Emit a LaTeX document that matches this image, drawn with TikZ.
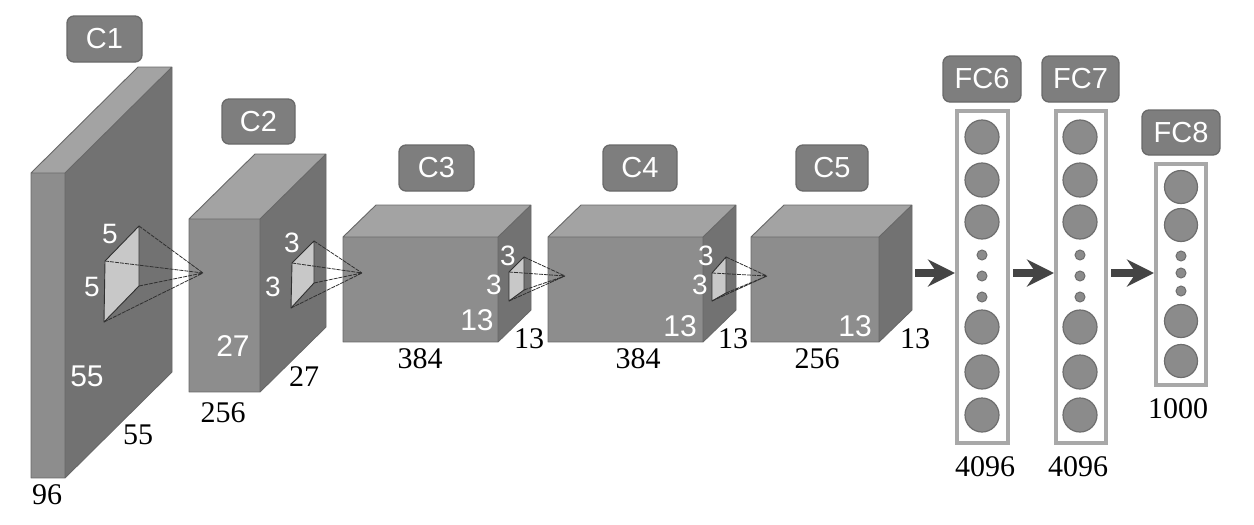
\documentclass[tikz,border=0pt]{standalone}
\usepackage{fontspec}
\setmainfont{Liberation Serif}
\newfontfamily\labfont{Liberation Sans}
\usetikzlibrary{arrows.meta}
\definecolor{frontc}{HTML}{8D8D8D}
\definecolor{sidec}{HTML}{727272}
\definecolor{topc}{HTML}{A3A3A3}
\definecolor{edgec}{HTML}{686868}
\definecolor{kernc}{HTML}{C8C8C8}
\definecolor{tagc}{HTML}{7E7E7E}
\definecolor{tagb}{HTML}{6A6A6A}
\definecolor{colb}{HTML}{A8A8A8}
\definecolor{neuc}{HTML}{8B8B8B}
\definecolor{neub}{HTML}{6E6E6E}
\definecolor{arrc}{HTML}{444444}
\definecolor{rayc}{HTML}{303030}
\newcommand\cuboid[6]{%
  \fill[frontc] (#1,#2) rectangle (#3,#4);
  \fill[topc] (#1,#2) -- ++(#5,-#6) -- ++(#3-#1,0) -- (#3,#2) -- cycle;
  \fill[sidec] (#3,#2) -- ++(#5,-#6) -- ++(0,#4-#2) -- (#3,#4) -- cycle;
  \draw[edgec, line width=0.9pt, line join=round]
    (#1,#2) -- ++(#5,-#6) -- ++(#3-#1,0) -- ++(0,#4-#2) -- (#3,#4) -- (#1,#4) -- cycle
    (#1,#2) -- (#3,#2) -- ++(#5,-#6) (#3,#2) -- (#3,#4);
}
\newcommand\kernel[5]{%
  % #1 A (front top), #2 B (back top), #3 C (back bottom), #4 D (front bottom), #5 apex
  \fill[kernc] #1 -- #2 -- #3 -- #4 -- cycle;
  \draw[rayc, line width=0.9pt, line join=round] #1 -- #2 -- #3 -- #4 -- cycle;
  \draw[rayc, line width=0.8pt, dash pattern=on 4pt off 1pt] #1 -- #5 #2 -- #5 #3 -- #5 #4 -- #5;
}
\begin{document}
\begin{tikzpicture}[x=1pt,y=-1pt,
  tag/.style={draw=tagb, line width=1.3pt, fill=tagc, rounded corners=7pt, text=white,
    font=\labfont\fontsize{29}{32}\selectfont, inner sep=0pt, minimum height=46pt},
  wnum/.style={text=white, font=\labfont\fontsize{30}{32}\selectfont, inner sep=0pt},
  knum/.style={text=white, font=\labfont\fontsize{28}{30}\selectfont, inner sep=0pt},
  bnum/.style={text=black, font=\fontsize{30}{32}\selectfont, inner sep=0pt},
  colbox/.style={draw=colb, line width=4pt, fill=white, inner sep=0pt},
  neuron/.style={circle, draw=neub, fill=neuc, line width=1.2pt, minimum size=34pt, inner sep=0pt},
  dotn/.style={circle, draw=neub, fill=neuc, line width=1pt, minimum size=10pt, inner sep=0pt},
  bigarrow/.style={draw=arrc, line width=8pt, -{Stealth[length=27pt, width=27pt, inset=9pt]}}]
\useasboundingbox (0,0) rectangle (1254,525);

% cuboids
\cuboid{31}{173}{65}{478}{107}{106}
\cuboid{189}{219}{260}{392}{66}{65}
\cuboid{343}{237}{498}{342}{33}{32}
\cuboid{548}{237}{703}{342}{33}{32}
\cuboid{751}{237}{879}{342}{33}{32}

% kernels
\kernel{(105,261)}{(139,226)}{(139,286)}{(104,322)}{(203,273)}
\kernel{(292,263)}{(314,241)}{(314,283)}{(291,308)}{(362,273)}
\kernel{(509,272)}{(524,257)}{(524,290)}{(509,301)}{(565,276)}
\kernel{(712,273)}{(726,257)}{(726,293)}{(712,301)}{(767,276)}

% tags
\node[tag, minimum width=75pt] (t1) at (104.5,39) {C1};
\node[tag, minimum width=73pt, minimum height=45pt] (t2) at (258.5,121.5) {C2};
\node[tag, minimum width=75pt] (t3) at (436.5,168) {C3};
\node[tag, minimum width=74pt] (t4) at (640,168) {C4};
\node[tag, minimum width=72pt] (t5) at (832,168) {C5};
\node[tag, minimum width=78pt] (t6) at (982,79) {FC6};
\node[tag, minimum width=77pt] (t7) at (1080.5,79) {FC7};
\node[tag, minimum width=78pt, minimum height=45pt] (t8) at (1181,132.5) {FC8};

% numbers on C1
\node[knum] (k1a) at (110,234) {5};
\node[knum] (k1b) at (92,287) {5};
\node[wnum] (w1) at (87,376) {55};
\node[bnum] (b1a) at (138,435) {55};
\node[bnum] (b1b) at (47,495) {96};
% C2
\node[knum] (k2a) at (292,243) {3};
\node[knum] (k2b) at (273,287) {3};
\node[wnum] (w2) at (233,346) {27};
\node[bnum] (b2a) at (304,377) {27};
\node[bnum] (b2b) at (223,413) {256};
% C3
\node[knum] (k3a) at (508,256) {3};
\node[knum] (k3b) at (494,285) {3};
\node[wnum] (w3) at (477,320) {13};
\node[bnum] (b3a) at (529,339) {13};
\node[bnum] (b3b) at (420,359) {384};
% C4
\node[knum] (k4a) at (706,256) {3};
\node[knum] (k4b) at (700,285) {3};
\node[wnum] (w4) at (680,326) {13};
\node[bnum] (b4a) at (733,339) {13};
\node[bnum] (b4b) at (638,359) {384};
% C5
\node[wnum] (w5) at (855,326) {13};
\node[bnum] (b5a) at (915,339) {13};
\node[bnum] (b5b) at (817,359) {256};

% FC columns
\node[colbox, minimum width=51pt, minimum height=332pt] (fc6) at (982.5,277) {};
\node[colbox, minimum width=50pt, minimum height=332pt] (fc7) at (1081,277) {};
\node[colbox, minimum width=50pt, minimum height=221pt] (fc8) at (1181,274.5) {};

\foreach \y [count=\i] in {137,180,222,327,372,415} {
  \node[neuron] (n6\i) at (982,\y) {};
  \node[neuron] (n7\i) at (1080,\y) {};
}
\foreach \y [count=\i] in {255,276,297} {
  \node[dotn] (d6\i) at (982,\y) {};
  \node[dotn] (d7\i) at (1080,\y) {};
}
\foreach \y [count=\i] in {187,225,321,361} {
  \node[neuron, minimum size=33pt] (n8\i) at (1181,\y) {};
}
\foreach \y [count=\i] in {256,273,291} {
  \node[dotn] (d8\i) at (1181,\y) {};
}

\node[bnum] (b6) at (985,467) {4096};
\node[bnum] (b7) at (1078,467) {4096};
\node[bnum] (b8) at (1178,409) {1000};

% arrows
\coordinate (arr) at (0,273);
\coordinate (a0) at (915,273);
\draw[bigarrow] (a0) -- (a0 -| fc6.west);
\draw[bigarrow] ([xshift=3pt]fc6.east |- arr) -- (fc7.west |- arr);
\draw[bigarrow] ([xshift=3pt]fc7.east |- arr) -- (fc8.west |- arr);
\end{tikzpicture}
\end{document}
